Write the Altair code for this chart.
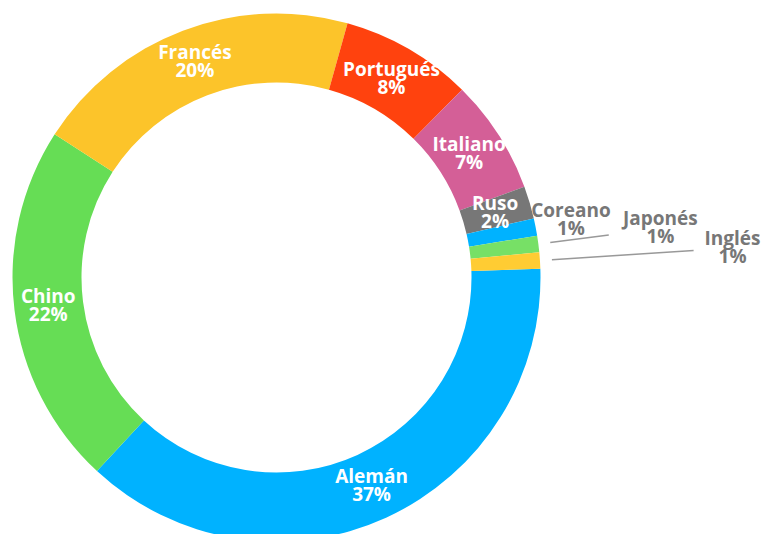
import math
import altair as alt
import pandas as pd

languages = ["Alemán", "Chino", "Francés", "Portugués", "Italiano", "Ruso", "Coreano", "Japonés", "Inglés"]
shares = [37.4, 22.2, 20.2, 8.06, 7.0, 2.0, 1.06, 1.0, 1.0]
pct_labels = ["37%", "22%", "20%", "8%", "7%", "2%", "1%", "1%", "1%"]
colors = ["#00B2FF", "#66DD55", "#FCC42A", "#FF420E", "#D45F97", "#777777", "#00B2FF", "#77E066", "#FFCC33"]
inside = [True, True, True, True, True, True, False, False, False]

# layout
label_radius = [229, 230, 230, 229, 229, 228, 300, 387, 457]
leader_end = [0, 0, 0, 0, 0, 0, 0, 335, 418]
CX, CY = 268.5, 269.5
START = math.radians(88.1)

df = pd.DataFrame({
    "lang": languages,
    "share": shares,
    "label": [f"{l}\n{p}" for l, p in zip(languages, pct_labels)],
    "order": list(range(len(languages))),
    "inside": inside,
    "lr": label_radius,
    "le": leader_end,
})

theta = alt.Theta("share:Q", stack=True, scale=alt.Scale(range=[START, START + 2 * math.pi]))
order = alt.Order("order:Q", sort="ascending")

base = alt.Chart(df)

arcs = base.mark_arc(innerRadius=195, outerRadius=264).encode(
    theta=theta,
    order=order,
    color=alt.Color("lang:N", scale=alt.Scale(domain=languages, range=colors), legend=None),
    x=alt.value(CX),
    y=alt.value(CY),
)

angles = base.transform_joinaggregate(total="sum(share)").transform_window(
    cum="sum(share)", sort=[alt.SortField("order")], frame=[None, 0]
).transform_calculate(
    mid=f"{START} + (datum.cum - datum.share / 2) / datum.total * 2 * PI",
)

text_common = dict(font="Open Sans", fontSize=19, fontWeight="bold", lineBreak="\n",
                   lineHeight=18, align="center", baseline="middle", dy=-9)

inner_text = angles.transform_filter("datum.inside").mark_text(color="white", **text_common).encode(
    theta=alt.Theta("mid:Q", scale=None),
    radius=alt.Radius("lr:Q", scale=None),
    text="label:N",
    x=alt.value(CX),
    y=alt.value(CY),
)

outer_text = angles.transform_filter("!datum.inside").mark_text(color="#777777", **text_common).encode(
    theta=alt.Theta("mid:Q", scale=None),
    radius=alt.Radius("lr:Q", scale=None),
    text="label:N",
    x=alt.value(CX),
    y=alt.value(CY),
)

leaders = angles.transform_calculate(
    x1=f"{CX} + 276 * sin(datum.mid)",
    y1=f"{CY} - 276 * cos(datum.mid)",
    x2=f"{CX} + datum.le * sin(datum.mid)",
    y2=f"{CY} - datum.le * cos(datum.mid)",
).transform_filter("datum.le > 0").mark_rule(color="#999999", strokeWidth=1.5).encode(
    x=alt.X("x1:Q", scale=None),
    y=alt.Y("y1:Q", scale=None),
    x2="x2:Q",
    y2="y2:Q",
)

chart = alt.layer(arcs, inner_text, outer_text, leaders).properties(
    width=755, height=526, autosize="none", padding=0
).configure_view(stroke=None)

chart.save("out.html", embed_options={"renderer": "svg", "actions": False})
